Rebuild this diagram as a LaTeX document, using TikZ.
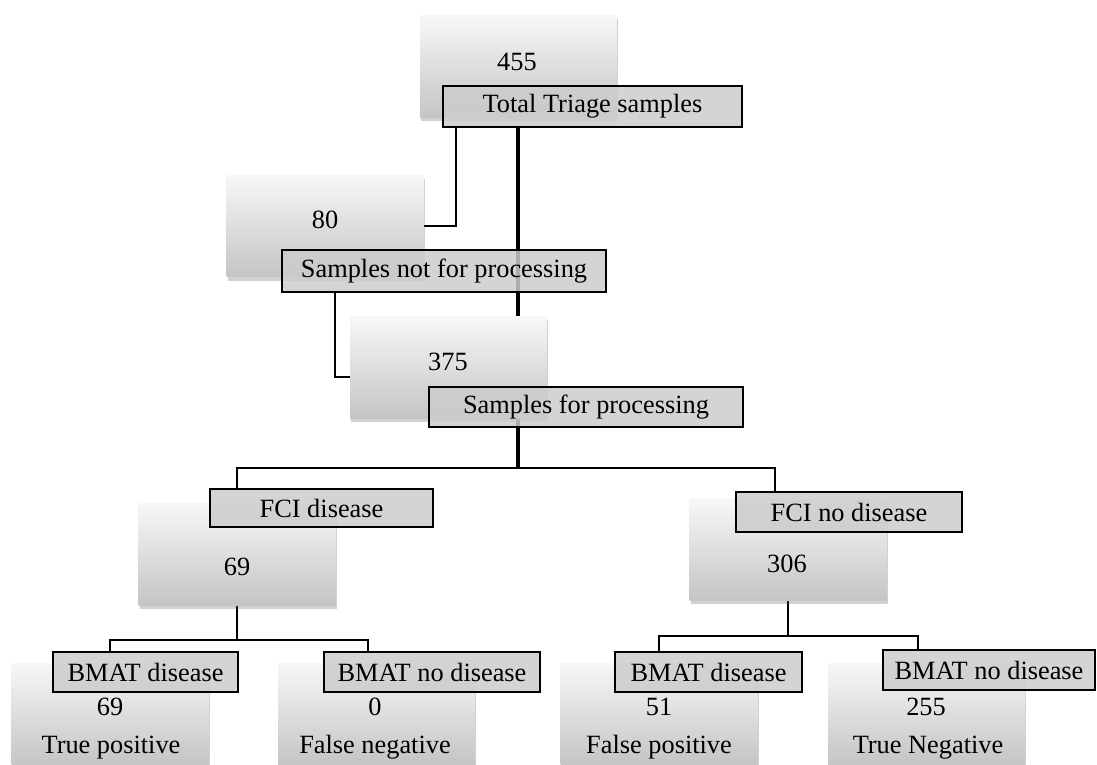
\documentclass[tikz,border=0pt]{standalone}
\usepackage{fontspec}
\setmainfont{Liberation Serif}
\usetikzlibrary{shadows,backgrounds}

\begin{document}
\begin{tikzpicture}[x=0.02cm, y=-0.02cm,
  every node/.style={font=\fontsize{15}{18}\selectfont},
  count/.style={minimum width=3.94cm, minimum height=2.04cm, inner sep=0pt,
    top color=black!3, bottom color=black!23, draw=none,
    drop shadow={shadow xshift=0.6pt, shadow yshift=-2pt, opacity=0.3, fill=black!60}},
  tag/.style={draw=black, line width=1.1pt, fill=black!20, fill opacity=0.85,
    text opacity=1, minimum height=0.8cm, inner sep=0pt},
  branch/.style={line width=1.1pt},
  trunk/.style={line width=2.2pt}]
\useasboundingbox (0,0) rectangle (1097,764);

  % Count boxes
  \node[count] (n455) at (518.5,66.5) {};
  \node[count] (n80)  at (325,226) {};
  \node[count] (n375) at (448.5,367.5) {};
  \node[count] (n69)  at (237,554) {};
  \node[count] (n306) at (788,549.5) {};
  \node[count] (tp) at (110,714) {};
  \node[count] (fn) at (376.5,714) {};
  \node[count] (fp) at (659,714) {};
  \node[count] (tn) at (926.5,714) {};

  % Numbers and outcomes
  \node[anchor=base] (t455) at (517,70) {455};
  \node[anchor=base] (t80)  at (325,228) {80};
  \node[anchor=base] (t375) at (448,370) {375};
  \node[anchor=base] (t69)  at (237,575) {69};
  \node[anchor=base] (t306) at (787,572) {306};
  \node[anchor=base] (ttp) at (110,715) {69};
  \node[anchor=base] (ltp) at (111,753) {True positive};
  \node[anchor=base] (tfn) at (375,715) {0};
  \node[anchor=base] (lfn) at (375,753) {False negative};
  \node[anchor=base] (tfp) at (659,715) {51};
  \node[anchor=base] (lfp) at (659,753) {False positive};
  \node[anchor=base] (ttn) at (926,715) {255};
  \node[anchor=base] (ltn) at (928,753) {True Negative};

  % Labels
  \node[tag, minimum width=5.98cm, minimum height=0.82cm] (tot) at (592.5,106.5) {Total Triage samples};
  \node[tag, minimum width=6.48cm, minimum height=0.84cm] (snp) at (444,271) {Samples not for processing};
  \node[tag, minimum width=6.28cm] (sfp) at (586,407) {Samples for processing};
  \node[tag, minimum width=4.46cm, minimum height=0.76cm] (fcd) at (321.5,508) {FCI disease};
  \node[tag, minimum width=4.52cm] (fcn) at (849,512) {FCI no disease};
  \node[tag, minimum width=3.7cm]  (bdl) at (145.5,672) {BMAT disease};
  \node[tag, minimum width=4.32cm] (bnl) at (432,672) {BMAT no disease};
  \node[tag, minimum width=3.74cm] (bdr) at (708.5,672) {BMAT disease};
  \node[tag, minimum width=4.24cm] (bnr) at (989,670) {BMAT no disease};

  % Connectors
  \begin{scope}[on background layer]
    \coordinate (j0) at (518,468);
    \coordinate (j1) at (775,468);
    \coordinate (k0) at (456,226);
    \coordinate (k1) at (335,377);
    \coordinate (m0) at (110,640);
    \coordinate (m1) at (368,640);
    \coordinate (r0) at (659,636);
    \coordinate (r1) at (918,636);
    \draw[trunk] (tot.south -| j0) -- (j0);
    \draw[branch] (n69 |- fcd.north) |- (j0) -- (j1) -- (j1 |- fcn.north);
    \draw[branch] (tot.south -| k0) |- (n80.east);
    \draw[branch] (snp.south -| k1) |- (k1 -| n375.west);
    \draw[branch] (n69.south) -- (n69.south |- m0);
    \draw[branch] (m0 |- bdl.north) -- (m0) -- (m1) -- (m1 |- bnl.north);
    \draw[branch] (n306.south) -- (n306.south |- r0);
    \draw[branch] (r0 |- bdr.north) -- (r0) -- (r1) -- (r1 |- bnr.north);
  \end{scope}
\end{tikzpicture}
\end{document}
